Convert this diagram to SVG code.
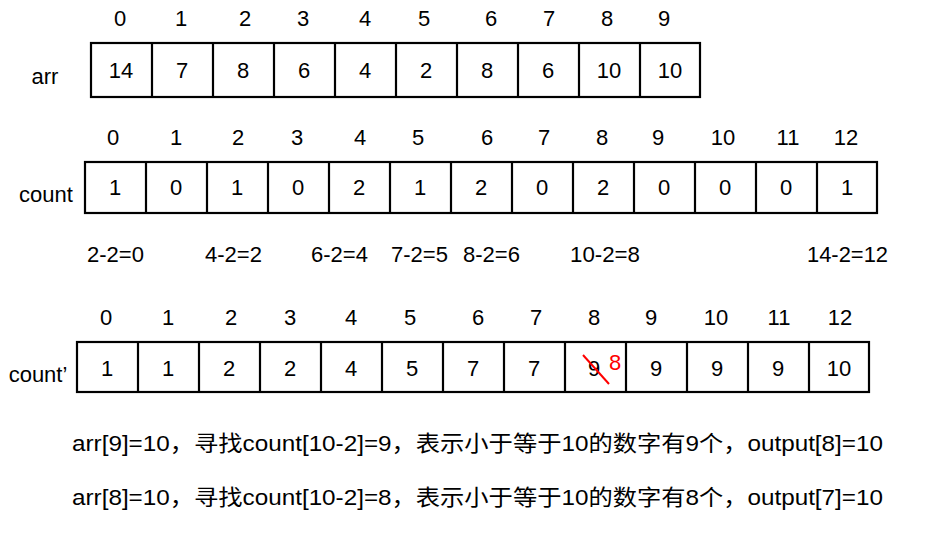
<svg xmlns="http://www.w3.org/2000/svg" width="927" height="545" viewBox="0 0 927 545">
<style>
text{font-family:"Liberation Sans","Noto Sans CJK SC",sans-serif;font-size:22px;fill:#000;text-anchor:middle}
.l{text-anchor:start}
.box{fill:#fff;stroke:#000;stroke-width:2.2}
.div{stroke:#000;stroke-width:2.2}
.red{fill:#f00}
</style>
<rect width="927" height="545" fill="#fff"/>
<g id="arr">
<text x="45" y="84">arr</text>
<g>
<text x="120" y="26">0</text><text x="181" y="26">1</text><text x="245" y="26">2</text><text x="303" y="26">3</text><text x="365" y="26">4</text><text x="424" y="26">5</text><text x="491" y="26">6</text><text x="549" y="26">7</text><text x="607" y="26">8</text><text x="664" y="26">9</text>
</g>
<rect class="box" x="91" y="43" width="609" height="54"/>
<path class="div" d="M152 43V97M213 43V97M274 43V97M335 43V97M396 43V97M457 43V97M518 43V97M579 43V97M640 43V97"/>
<g>
<text x="121" y="78">14</text><text x="182" y="78">7</text><text x="243" y="78">8</text><text x="304" y="78">6</text><text x="365" y="78">4</text><text x="426" y="78">2</text><text x="487" y="78">8</text><text x="548" y="78">6</text><text x="609" y="78">10</text><text x="670" y="78">10</text>
</g>
</g>
<g id="count">
<text x="46" y="202">count</text>
<g>
<text x="113" y="145">0</text><text x="176" y="145">1</text><text x="238" y="145">2</text><text x="297" y="145">3</text><text x="360" y="145">4</text><text x="418" y="145">5</text><text x="487" y="145">6</text><text x="544" y="145">7</text><text x="602" y="145">8</text><text x="658" y="145">9</text><text x="723" y="145">10</text><text x="788" y="145">11</text><text x="846" y="145">12</text>
</g>
<rect class="box" x="85" y="162" width="792" height="51"/>
<path class="div" d="M146 162V213M207 162V213M268 162V213M329 162V213M390 162V213M451 162V213M512 162V213M573 162V213M634 162V213M695 162V213M756 162V213M817 162V213"/>
<g>
<text x="115" y="195">1</text><text x="176" y="195">0</text><text x="237" y="195">1</text><text x="298" y="195">0</text><text x="359" y="195">2</text><text x="420" y="195">1</text><text x="481" y="195">2</text><text x="542" y="195">0</text><text x="603" y="195">2</text><text x="664" y="195">0</text><text x="725" y="195">0</text><text x="786" y="195">0</text><text x="847" y="195">1</text>
</g>
</g>
<g id="formulas">
<text class="l" x="87" y="262" textLength="57" lengthAdjust="spacingAndGlyphs">2-2=0</text>
<text class="l" x="205" y="262" textLength="57" lengthAdjust="spacingAndGlyphs">4-2=2</text>
<text class="l" x="311" y="262" textLength="57" lengthAdjust="spacingAndGlyphs">6-2=4</text>
<text class="l" x="391" y="262" textLength="57" lengthAdjust="spacingAndGlyphs">7-2=5</text>
<text class="l" x="463" y="262" textLength="57" lengthAdjust="spacingAndGlyphs">8-2=6</text>
<text class="l" x="570" y="262" textLength="70" lengthAdjust="spacingAndGlyphs">10-2=8</text>
<text class="l" x="807" y="262" textLength="81" lengthAdjust="spacingAndGlyphs">14-2=12</text>
</g>
<g id="count-prime">
<text x="38" y="382">count’</text>
<g>
<text x="106" y="325">0</text><text x="168" y="325">1</text><text x="231" y="325">2</text><text x="290" y="325">3</text><text x="351" y="325">4</text><text x="410" y="325">5</text><text x="478" y="325">6</text><text x="536" y="325">7</text><text x="594" y="325">8</text><text x="651" y="325">9</text><text x="716" y="325">10</text><text x="779" y="325">11</text><text x="840" y="325">12</text>
</g>
<rect class="box" x="77" y="342" width="792" height="50"/>
<path class="div" d="M138 342V392M199 342V392M260 342V392M321 342V392M382 342V392M443 342V392M504 342V392M565 342V392M626 342V392M687 342V392M748 342V392M809 342V392"/>
<g>
<text x="107" y="376">1</text><text x="168" y="376">1</text><text x="229" y="376">2</text><text x="290" y="376">2</text><text x="351" y="376">4</text><text x="412" y="376">5</text><text x="473" y="376">7</text><text x="534" y="376">7</text><text x="594" y="376">9</text><text x="656" y="376">9</text><text x="717" y="376">9</text><text x="778" y="376">9</text><text x="839" y="376">10</text>
</g>
<line x1="583" y1="355" x2="609" y2="384" stroke="#f00" stroke-width="2"/>
<text class="red" x="615" y="370">8</text>
</g>
<g id="notes">
<text class="l" x="72" y="451" textLength="811" lengthAdjust="spacingAndGlyphs">arr[9]=10，寻找count[10-2]=9，表示小于等于10的数字有9个，output[8]=10</text>
<text class="l" x="72" y="505" textLength="811" lengthAdjust="spacingAndGlyphs">arr[8]=10，寻找count[10-2]=8，表示小于等于10的数字有8个，output[7]=10</text>
</g>
</svg>
